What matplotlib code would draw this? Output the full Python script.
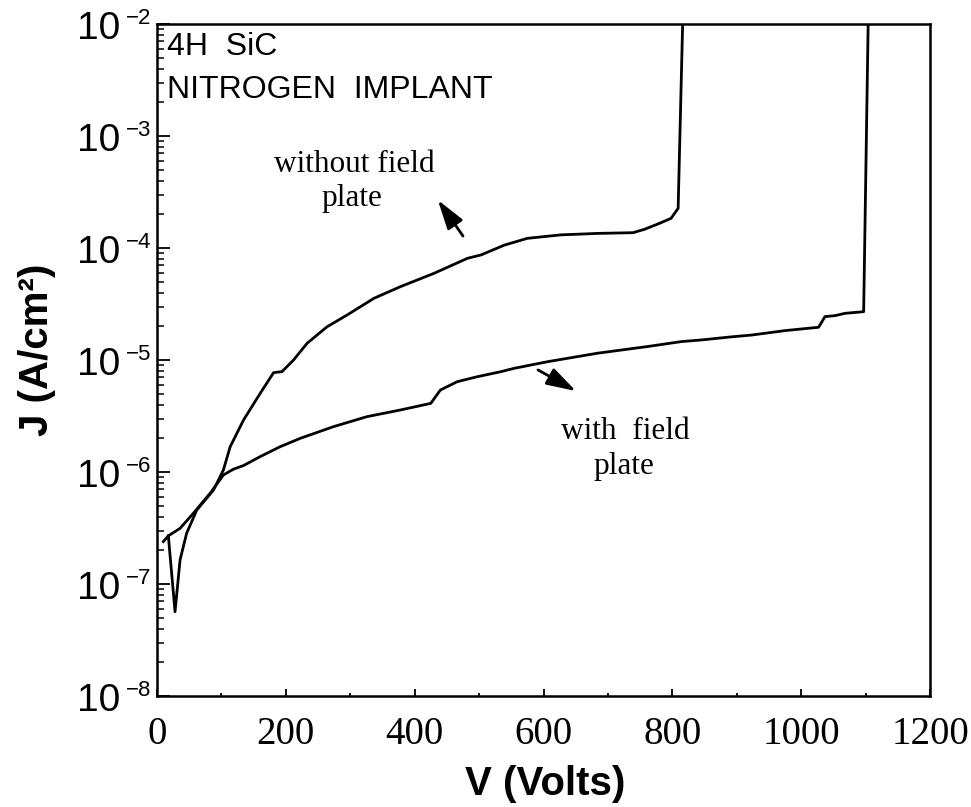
import matplotlib
matplotlib.use("Agg")
import matplotlib.pyplot as plt
from matplotlib.ticker import MultipleLocator, LogLocator, NullFormatter
import numpy as np

# ---- data ----
v_without = [17.6, 28, 35.8, 46, 61.8, 87.7, 103, 113.6, 134.3, 160.3, 181, 194, 212, 233,
             264, 295, 337, 378, 430, 482, 503, 539, 575, 627, 684, 739, 757, 780, 798, 809, 816]
j_without = [2.69e-7, 5.66e-8, 1.64e-7, 2.84e-7, 4.58e-7, 6.90e-7, 1.04e-6, 1.68e-6, 2.91e-6,
             5.05e-6, 7.71e-6, 7.87e-6, 1.0e-5, 1.41e-5, 1.98e-5, 2.52e-5, 3.56e-5, 4.52e-5,
             5.94e-5, 8.09e-5, 8.67e-5, 1.06e-4, 1.22e-4, 1.31e-4, 1.35e-4, 1.37e-4, 1.47e-4,
             1.66e-4, 1.84e-4, 2.26e-4, 1.0e-2]

v_with = [9.8, 17.6, 35.8, 56.5, 82.5, 103, 118.7, 134, 160, 191, 222.6, 274, 326, 378, 425,
          440, 466, 497.6, 534, 554.6, 606.5, 684, 762, 814, 845, 892, 923, 975, 1027, 1037,
          1052.6, 1068, 1097, 1104]
j_with = [2.39e-7, 2.69e-7, 3.14e-7, 4.28e-7, 6.46e-7, 9.40e-7, 1.06e-6, 1.14e-6, 1.37e-6,
          1.68e-6, 2.00e-6, 2.54e-6, 3.12e-6, 3.58e-6, 4.10e-6, 5.40e-6, 6.40e-6, 7.10e-6,
          7.87e-6, 8.43e-6, 9.66e-6, 1.15e-5, 1.32e-5, 1.46e-5, 1.51e-5, 1.61e-5, 1.67e-5,
          1.83e-5, 1.96e-5, 2.44e-5, 2.49e-5, 2.61e-5, 2.70e-5, 1.0e-2]

x_ticks = [0, 200, 400, 600, 800, 1000, 1200]
y_exponents = [-2, -3, -4, -5, -6, -7, -8]

W, H = 971, 807
fig = plt.figure(figsize=(W / 100, H / 100), dpi=100)
L, R, T, B = 157, 930, 24, 696
ax = fig.add_axes([L / W, 1 - B / H, (R - L) / W, (B - T) / H])

ax.plot(v_without, j_without, color="black", lw=2.0, solid_joinstyle="round")
ax.plot(v_with, j_with, color="black", lw=2.0, solid_joinstyle="round")

ax.set_yscale("log")
ax.set_xlim(0, 1200)
ax.set_ylim(1e-8, 1e-2)

for s in ax.spines.values():
    s.set_linewidth(1.8)

# x ticks
ax.xaxis.set_minor_locator(MultipleLocator(100))
ax.set_xticks(x_ticks)
ax.set_xticklabels([str(t) for t in x_ticks], fontfamily="Liberation Serif", fontsize=28)
ax.tick_params(axis="x", which="major", direction="in", length=5, width=1.3, pad=14.5)
ax.tick_params(axis="x", which="minor", direction="in", length=2.5, width=1.3)

# y ticks
ax.yaxis.set_major_locator(LogLocator(base=10, numticks=20))
ax.yaxis.set_minor_locator(LogLocator(base=10, subs=np.arange(2, 10), numticks=20))
ax.yaxis.set_major_formatter(NullFormatter())
ax.yaxis.set_minor_formatter(NullFormatter())
ax.tick_params(axis="y", which="major", direction="in", length=9.5, width=1.3)
ax.tick_params(axis="y", which="minor", direction="in", length=5, width=1.1)

for e in y_exponents:
    ax.annotate("10", xy=(0, 10.0 ** e), xycoords=("axes fraction", "data"),
                xytext=(-26.5, -3.6), textcoords="offset points", ha="right", va="center",
                fontsize=28, fontfamily="Liberation Sans", annotation_clip=False)
    ax.annotate("\u2212" + str(abs(e)), xy=(0, 10.0 ** e), xycoords=("axes fraction", "data"),
                xytext=(-4.0, 4.3), textcoords="offset points", ha="right", va="center",
                fontsize=16, fontfamily="Liberation Sans", annotation_clip=False)

ax.set_xlabel("V (Volts)", fontsize=29, fontweight="bold", fontfamily="Liberation Sans")
ax.xaxis.set_label_coords(0.502, (B - 765) / (B - T))
ax.xaxis.label.set_va("top")
ax.set_ylabel("J (A/cm\u00b2)", fontsize=29, fontweight="bold", fontfamily="Liberation Sans")
ax.yaxis.set_label_coords((56 - L) / (R - L), 0.5 + (360 - 350) / (B - T))

def fpos(px, py):
    return px / W, 1 - py / H

# corner label
fig.text(*fpos(167, 55), "4H  SiC", fontsize=23, fontfamily="Liberation Sans", va="baseline")
fig.text(*fpos(167, 98), "NITROGEN  IMPLANT", fontsize=23, fontfamily="Liberation Sans",
         va="baseline")

# curve labels
fig.text(*fpos(354, 172), "without field", fontsize=22.5, fontfamily="Liberation Serif",
         ha="center", va="baseline")
fig.text(*fpos(352, 206), "plate", fontsize=22.5, fontfamily="Liberation Serif",
         ha="center", va="baseline")
fig.text(*fpos(625, 439), "with  field", fontsize=22.5, fontfamily="Liberation Serif",
         ha="center", va="baseline")
fig.text(*fpos(624, 474), "plate", fontsize=22.5, fontfamily="Liberation Serif",
         ha="center", va="baseline")

arrow_style = dict(arrowstyle="-|>,head_length=1.8,head_width=0.55", mutation_scale=10,
                   lw=2.0, color="black", shrinkA=0, shrinkB=0)
ax.annotate("", xy=(436, 2.68e-4), xytext=(475, 1.28e-4), arrowprops=arrow_style)
ax.annotate("", xy=(650.5, 5.28e-6), xytext=(591.5, 8.15e-6), arrowprops=arrow_style)

fig.savefig("out.png", dpi=100)
